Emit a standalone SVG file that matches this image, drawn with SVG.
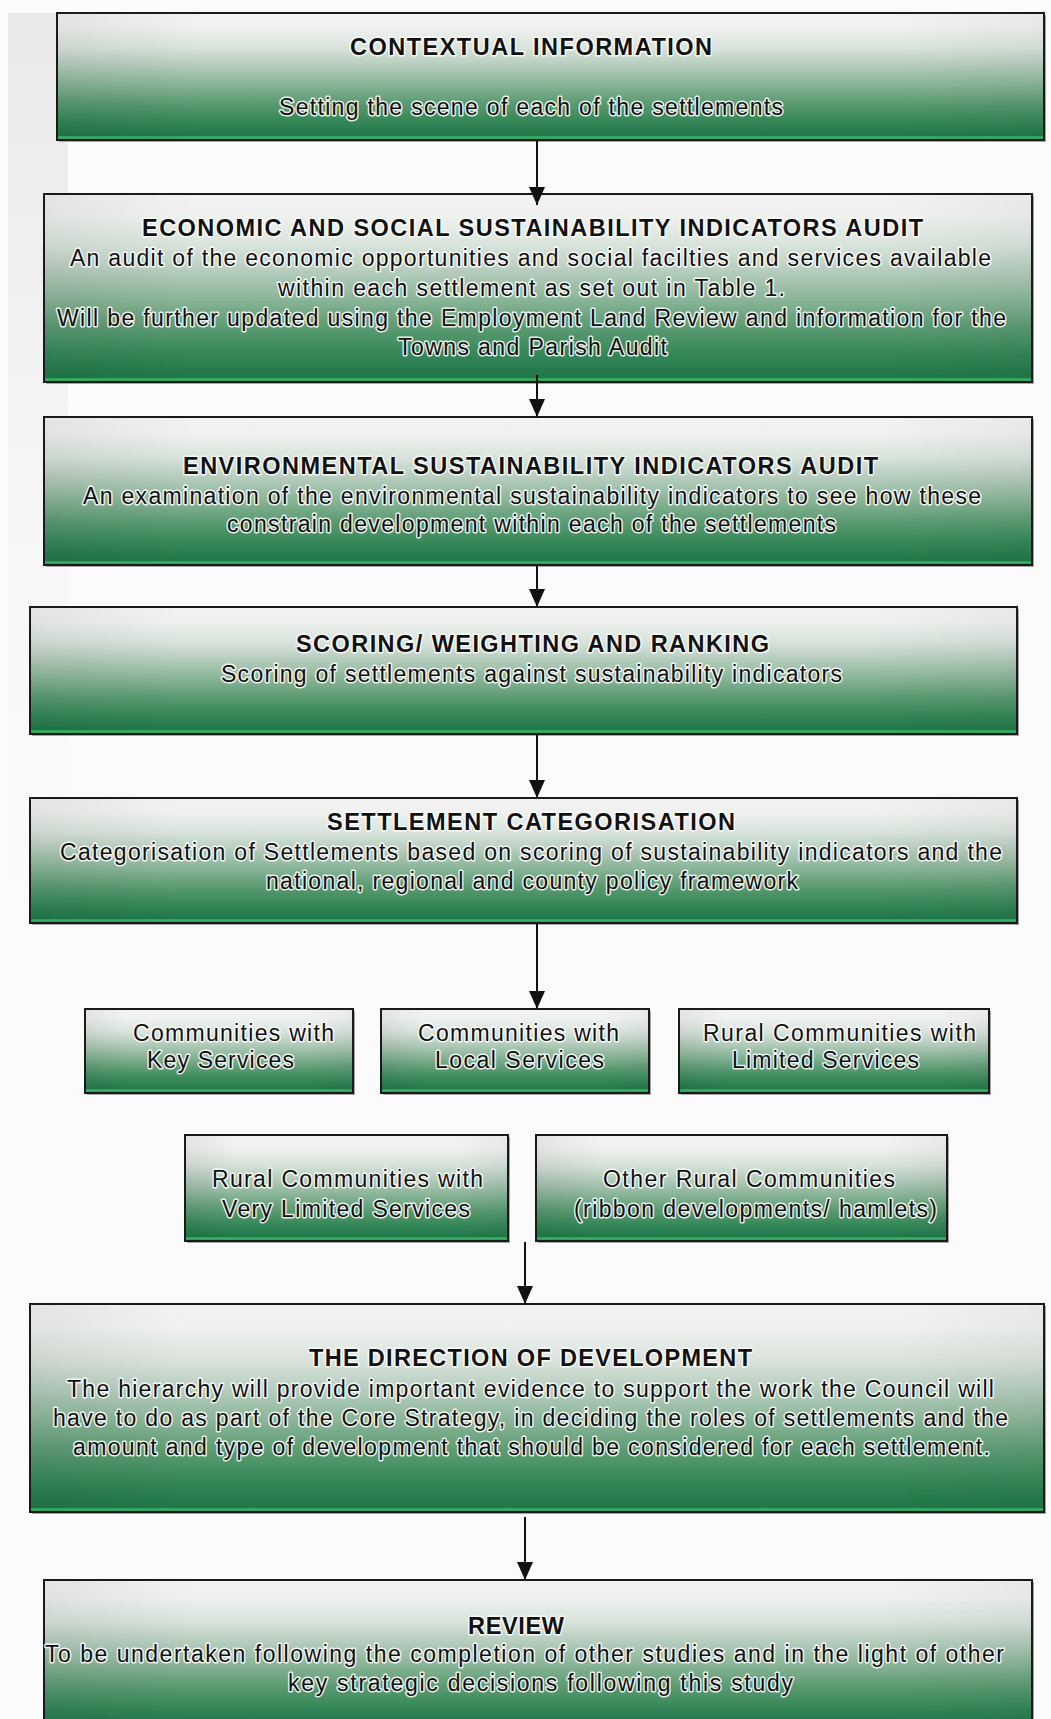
<svg xmlns="http://www.w3.org/2000/svg" width="1051" height="1719" viewBox="0 0 1051 1719">
<style>
.box{fill:url(#g);stroke:#1a1a1a;stroke-width:2}
.vig{fill:url(#v);stroke:none}
.hl{stroke:#35b065;stroke-width:2.5}
.sh{fill:#a8a4aa}
text{font-family:"Liberation Sans",Arial,sans-serif;font-size:23px;fill:#111;stroke:#ffffff;stroke-opacity:0.85;stroke-width:3px;stroke-linejoin:round;paint-order:stroke}
.t{font-weight:bold;font-size:23.5px}
.c{stroke:#111;stroke-width:2;fill:none;marker-end:url(#ah)}
</style>
<defs>
<linearGradient id="g" x1="0" y1="0" x2="0" y2="1">
<stop offset="0" stop-color="#f2f2f2"/>
<stop offset="0.12" stop-color="#eff1ef"/>
<stop offset="0.28" stop-color="#d7e2da"/>
<stop offset="0.42" stop-color="#b3cbbb"/>
<stop offset="0.56" stop-color="#8ab598"/>
<stop offset="0.7" stop-color="#5e9c74"/>
<stop offset="0.85" stop-color="#358758"/>
<stop offset="0.95" stop-color="#23794a"/>
<stop offset="1" stop-color="#207848"/>
</linearGradient>
<linearGradient id="v" x1="0" y1="0" x2="1" y2="0">
<stop offset="0" stop-color="#000" stop-opacity="0.06"/>
<stop offset="0.15" stop-color="#000" stop-opacity="0"/>
<stop offset="0.85" stop-color="#000" stop-opacity="0"/>
<stop offset="1" stop-color="#000" stop-opacity="0.04"/>
</linearGradient>
<linearGradient id="bg" x1="0" y1="0" x2="0" y2="1">
<stop offset="0" stop-color="#e9e9e9"/>
<stop offset="0.5" stop-color="#f6f6f6"/>
<stop offset="1" stop-color="#fcfcfc"/>
</linearGradient>
<marker id="ah" markerUnits="userSpaceOnUse" markerWidth="18" markerHeight="16" refX="18" refY="8" orient="auto" viewBox="0 0 18 16">
<path d="M0,0 L18,8 L0,16 z" fill="#111"/>
</marker>
</defs>
<rect x="0" y="0" width="1051" height="1719" fill="#fbfbfb"/>
<rect x="8" y="13" width="60" height="1000" fill="url(#bg)"/>

<g id="contextual">
<rect class="sh" x="59" y="15" width="987" height="127"/>
<rect class="box" x="57" y="13" width="987" height="127"/>
<rect class="vig" x="58" y="14" width="985" height="125"/>
<line class="hl" x1="58" y1="137.5" x2="1043" y2="137.5"/>
<text class="t" x="350" y="55" textLength="362" lengthAdjust="spacing">CONTEXTUAL INFORMATION</text>
<text x="279" y="115" textLength="504" lengthAdjust="spacing">Setting the scene of each of the settlements</text>
</g>

<g id="economic">
<rect class="sh" x="46" y="196" width="988" height="188"/>
<rect class="box" x="44" y="194" width="988" height="188"/>
<rect class="vig" x="45" y="195" width="986" height="186"/>
<line class="hl" x1="45" y1="379.5" x2="1031" y2="379.5"/>
<text class="t" x="142" y="236" textLength="781" lengthAdjust="spacing">ECONOMIC AND SOCIAL SUSTAINABILITY INDICATORS AUDIT</text>
<text x="70" y="266" textLength="921" lengthAdjust="spacing">An audit of the economic opportunities and social facilties and services available</text>
<text x="278" y="296" textLength="507" lengthAdjust="spacing">within each settlement as set out in Table 1.</text>
<text x="57" y="326" textLength="949" lengthAdjust="spacing">Will be further updated using the Employment Land Review and information for the</text>
<text x="398" y="355" textLength="269" lengthAdjust="spacing">Towns and Parish Audit</text>
</g>

<g id="environmental">
<rect class="sh" x="46" y="419" width="988" height="148"/>
<rect class="box" x="44" y="417" width="988" height="148"/>
<rect class="vig" x="45" y="418" width="986" height="146"/>
<line class="hl" x1="45" y1="562.5" x2="1031" y2="562.5"/>
<text class="t" x="183" y="474" textLength="695" lengthAdjust="spacing">ENVIRONMENTAL SUSTAINABILITY INDICATORS AUDIT</text>
<text x="83" y="504" textLength="898" lengthAdjust="spacing">An examination of the environmental sustainability indicators to see how these</text>
<text x="227" y="532" textLength="609" lengthAdjust="spacing">constrain development within each of the settlements</text>
</g>

<g id="scoring">
<rect class="sh" x="32" y="609" width="987" height="127"/>
<rect class="box" x="30" y="607" width="987" height="127"/>
<rect class="vig" x="31" y="608" width="985" height="125"/>
<line class="hl" x1="31" y1="731.5" x2="1016" y2="731.5"/>
<text class="t" x="296" y="652" textLength="473" lengthAdjust="spacing">SCORING/ WEIGHTING AND RANKING</text>
<text x="221" y="682" textLength="621" lengthAdjust="spacing">Scoring of settlements against sustainability indicators</text>
</g>

<g id="categorisation">
<rect class="sh" x="32" y="800" width="987" height="125"/>
<rect class="box" x="30" y="798" width="987" height="125"/>
<rect class="vig" x="31" y="799" width="985" height="123"/>
<line class="hl" x1="31" y1="920.5" x2="1016" y2="920.5"/>
<text class="t" x="327" y="830" textLength="408" lengthAdjust="spacing">SETTLEMENT CATEGORISATION</text>
<text x="60" y="860" textLength="942" lengthAdjust="spacing">Categorisation of Settlements based on scoring of sustainability indicators and the</text>
<text x="266" y="889" textLength="532" lengthAdjust="spacing">national, regional and county policy framework</text>
</g>

<g id="key-services">
<rect class="sh" x="87" y="1011" width="268" height="84"/>
<rect class="box" x="85" y="1009" width="268" height="84"/>
<rect class="vig" x="86" y="1010" width="266" height="82"/>
<line class="hl" x1="86" y1="1090.5" x2="352" y2="1090.5"/>
<text x="133" y="1041" textLength="201" lengthAdjust="spacing">Communities with</text>
<text x="147" y="1068" textLength="147" lengthAdjust="spacing">Key Services</text>
</g>

<g id="local-services">
<rect class="sh" x="383" y="1011" width="268" height="84"/>
<rect class="box" x="381" y="1009" width="268" height="84"/>
<rect class="vig" x="382" y="1010" width="266" height="82"/>
<line class="hl" x1="382" y1="1090.5" x2="648" y2="1090.5"/>
<text x="418" y="1041" textLength="201" lengthAdjust="spacing">Communities with</text>
<text x="435" y="1068" textLength="169" lengthAdjust="spacing">Local Services</text>
</g>

<g id="limited-services">
<rect class="sh" x="681" y="1011" width="310" height="84"/>
<rect class="box" x="679" y="1009" width="310" height="84"/>
<rect class="vig" x="680" y="1010" width="308" height="82"/>
<line class="hl" x1="680" y1="1090.5" x2="988" y2="1090.5"/>
<text x="703" y="1041" textLength="273" lengthAdjust="spacing">Rural Communities with</text>
<text x="732" y="1068" textLength="187" lengthAdjust="spacing">Limited Services</text>
</g>

<g id="very-limited-services">
<rect class="sh" x="187" y="1137" width="323" height="106"/>
<rect class="box" x="185" y="1135" width="323" height="106"/>
<rect class="vig" x="186" y="1136" width="321" height="104"/>
<line class="hl" x1="186" y1="1238.5" x2="507" y2="1238.5"/>
<text x="212" y="1187" textLength="271" lengthAdjust="spacing">Rural Communities with</text>
<text x="222" y="1217" textLength="248" lengthAdjust="spacing">Very Limited Services</text>
</g>

<g id="other-rural">
<rect class="sh" x="538" y="1137" width="411" height="106"/>
<rect class="box" x="536" y="1135" width="411" height="106"/>
<rect class="vig" x="537" y="1136" width="409" height="104"/>
<line class="hl" x1="537" y1="1238.5" x2="946" y2="1238.5"/>
<text x="603" y="1187" textLength="292" lengthAdjust="spacing">Other Rural Communities</text>
<text x="574" y="1217" textLength="363" lengthAdjust="spacing">(ribbon developments/ hamlets)</text>
</g>

<g id="direction">
<rect class="sh" x="32" y="1306" width="1014" height="208"/>
<rect class="box" x="30" y="1304" width="1014" height="208"/>
<rect class="vig" x="31" y="1305" width="1012" height="206"/>
<line class="hl" x1="31" y1="1509.5" x2="1043" y2="1509.5"/>
<text class="t" x="309" y="1366" textLength="443" lengthAdjust="spacing">THE DIRECTION OF DEVELOPMENT</text>
<text x="67" y="1397" textLength="927" lengthAdjust="spacing">The hierarchy will provide important evidence to support the work the Council will</text>
<text x="53" y="1426" textLength="955" lengthAdjust="spacing">have to do as part of the Core Strategy, in deciding the roles of settlements and the</text>
<text x="73" y="1455" textLength="917" lengthAdjust="spacing">amount and type of development that should be considered for each settlement.</text>
</g>

<g id="review">
<rect class="sh" x="46" y="1582" width="988" height="150"/>
<rect class="box" x="44" y="1580" width="988" height="150"/>
<rect class="vig" x="45" y="1581" width="986" height="148"/>
<text class="t" x="468" y="1634" textLength="96" lengthAdjust="spacing">REVIEW</text>
<text x="45" y="1662" textLength="959" lengthAdjust="spacing">To be undertaken following the completion of other studies and in the light of other</text>
<text x="288" y="1691" textLength="505" lengthAdjust="spacing">key strategic decisions following this study</text>
</g>

<g id="connectors">
<line class="c" x1="537" y1="140" x2="537" y2="205"/>
<line class="c" x1="537" y1="375" x2="537" y2="417"/>
<line class="c" x1="537" y1="565" x2="537" y2="607"/>
<line class="c" x1="537" y1="734" x2="537" y2="798"/>
<line class="c" x1="537" y1="923" x2="537" y2="1009"/>
<line class="c" x1="525" y1="1242" x2="525" y2="1304"/>
<line class="c" x1="525" y1="1517" x2="525" y2="1580"/>
</g>
</svg>
